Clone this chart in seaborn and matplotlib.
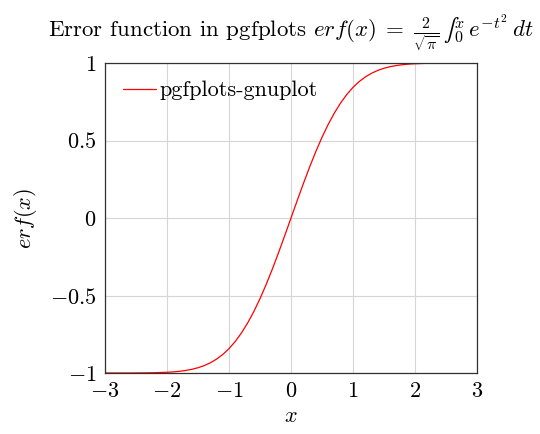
import matplotlib
matplotlib.use("Agg")
import matplotlib.pyplot as plt
import seaborn as sns
import pandas as pd

x_pos = [0.0, 0.1, 0.2, 0.3, 0.4, 0.5, 0.6, 0.7, 0.8, 0.9, 1.0, 1.1, 1.2, 1.3, 1.4,
         1.5, 1.6, 1.7, 1.8, 1.9, 2.0, 2.2, 2.4, 2.6, 2.8, 3.0]
y_pos = [0.0, 0.1125, 0.2227, 0.3286, 0.4284, 0.5205, 0.6039, 0.6778, 0.7421, 0.7969,
         0.8427, 0.8802, 0.9103, 0.9340, 0.9523, 0.9661, 0.9763, 0.9838, 0.9891, 0.9928,
         0.9953, 0.9981, 0.9993, 0.9998, 0.9999, 1.0]
# curve is odd-symmetric in the picture: left half mirrors the right half
x_vals = [-v for v in reversed(x_pos[1:])] + x_pos
y_vals = [-v for v in reversed(y_pos[1:])] + y_pos
series_label = "pgfplots-gnuplot"
x_ticks = [-3, -2, -1, 0, 1, 2, 3]
y_ticks = [-1, -0.5, 0, 0.5, 1]
y_tick_labels = ["$-1$", "$-0.5$", "$0$", "$0.5$", "$1$"]

sns.set_theme(style="whitegrid")
plt.rcParams["font.family"] = ["cmr10", "DejaVu Serif"]
plt.rcParams["mathtext.fontset"] = "cm"
plt.rcParams["axes.formatter.use_mathtext"] = True
plt.rcParams["axes.unicode_minus"] = True
for k in ["text.color", "axes.labelcolor", "xtick.color", "ytick.color"]:
    plt.rcParams[k] = "black"

df = pd.DataFrame({"x": x_vals, "y": y_vals})

fig = plt.figure(figsize=(5.4, 4.34), dpi=100)
ax = fig.add_axes([105 / 540, 1 - 373 / 434, 372 / 540, 310 / 434])
sns.lineplot(data=df, x="x", y="y", ax=ax, color="#ff0000", linewidth=0.9,
             label=series_label, sort=True)
ax.set_xlim(-3, 3)
ax.set_ylim(-1, 1)
ax.set_xticks(x_ticks)
ax.set_yticks(y_ticks)
ax.set_xticklabels([f"${t}$" for t in x_ticks], fontsize=16)
ax.set_yticklabels(y_tick_labels, fontsize=16)
ax.grid(True, color="#d6d6d6", linewidth=0.8)
for s in ax.spines.values():
    s.set_color("#303030")
    s.set_linewidth(0.9)
ax.tick_params(length=0, pad=6)
ax.set_xlabel("$x$", fontsize=16, labelpad=4)
ax.set_ylabel("$erf(x)$", fontsize=16, labelpad=8)
ax.set_title("Error function in pgfplots $erf(x)\\;=\\;\\frac{2}{\\sqrt{\\pi}}\\,\u222b_0^x\\, e^{-t^2}\\,dt$",
             fontsize=16.5, pad=18)
leg = ax.legend(loc="upper left", fontsize=16, frameon=False,
                handlelength=1.5, handletextpad=0.15,
                borderaxespad=0.4)
fig.savefig("out.png", dpi=100)
